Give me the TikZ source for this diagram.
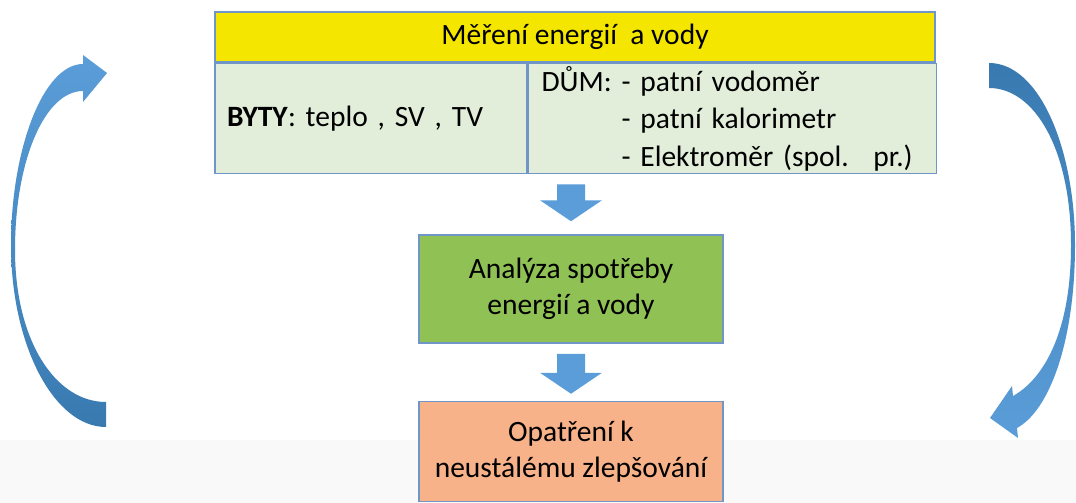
\documentclass[tikz,border=0pt]{standalone}
\usepackage{fontspec}
\setmainfont{Carlito}
\usetikzlibrary{positioning,calc}
\definecolor{hdryellow}{RGB}{245,230,0}
\definecolor{cellgreen}{RGB}{226,238,218}
\definecolor{anagreen}{RGB}{143,193,84}
\definecolor{optsalmon}{RGB}{247,178,138}
\definecolor{edgeblue}{RGB}{112,150,200}
\definecolor{arrlight}{RGB}{90,157,216}
\definecolor{arrdark}{RGB}{56,122,176}
\definecolor{bandgray}{RGB}{249,249,249}
\tikzset{%
  box/.style      = {draw=edgeblue, line width=1.5pt, rectangle, inner sep=0pt,
    align=center, font=\fontsize{29.5}{36}\selectfont},
  hdr/.style      = {box, fill=hdryellow, minimum width=720pt, minimum height=50pt},
  cell/.style     = {box, fill=cellgreen, minimum height=110pt, align=left,
    font=\fontsize{29.5}{37.5}\selectfont}, % lower row of the table
  flow/.style     = {fill=arrlight}, % block arrow
  loopl/.style    = {top color=arrlight, bottom color=arrdark},
  loopr/.style    = {top color=arrdark, bottom color=arrlight}
}
% block arrow from #1 (top) down to #2 (tip)
\newcommand{\flowarrow}[2]{%
  \fill[flow] let \p1=(#1), \p2=(#2) in
    (\x1-14pt,\y1) -- (\x1+14pt,\y1) -- (\x1+14pt,\y2+21pt) -- (\x1+31pt,\y2+21pt)
    -- (\x2,\y2) -- (\x1-31pt,\y2+21pt) -- (\x1-14pt,\y2+21pt) -- cycle;}

\begin{document}
\begin{tikzpicture}[x=1pt, y=-1pt, node distance=57pt]
  \useasboundingbox[fill=white] (0,0) rectangle (1076,503);
  \fill[bandgray] (0,440) rectangle (1076,503);

  % table
  \node [hdr] (meas) at (575,37) {Měření energií~ a vody};
  \node [cell, anchor=north west, minimum width=312pt, inner xsep=12pt, text width=288pt]
    (byty) at (meas.south west) {\textbf{BYTY}: teplo , SV , TV};
  \node [cell, anchor=north west, minimum width=408pt, inner xsep=13pt, text width=382pt]
    (dum) at (byty.north east) {DŮM: - patní vodoměr\\
      \phantom{DŮM: }- patní kalorimetr\\
      \phantom{DŮM: }- Elektroměr (spol.~ pr.)};

  % steps
  \node [box, fill=anagreen, minimum width=304pt, minimum height=108pt]
    (ana) at (571,289) {Analýza spotřeby\\energií a vody};
  \node [box, fill=optsalmon, minimum width=304pt, minimum height=100pt, below=of ana]
    (opt) {Opatření k\\neustálému zlepšování};

  \coordinate (a1top) at ($(byty.south -| ana.north)+(0,10)$);
  \coordinate (a1tip) at ($(ana.north)+(0,-13)$);
  \coordinate (a2top) at ($(ana.south)+(0,10)$);
  \coordinate (a2tip) at ($(opt.north)+(0,-7)$);
  \flowarrow{a1top}{a1tip}
  \flowarrow{a2top}{a2tip}

  % loop arrows
  \shade[loopl] (106,427) .. controls (54,427) and (11,345) .. (11,245)
    .. controls (11,150) and (43,64) .. (83,64) -- (83,55) -- (107,73) -- (83,102)
    -- (83,91) .. controls (45,91) and (15,160) .. (15,250)
    .. controls (15,340) and (55,402) .. (106,402) -- cycle;
  \shade[loopr] (989,63) .. controls (1040,63) and (1075,150) .. (1075,245)
    .. controls (1075,340) and (1050,410) .. (1017,428) -- (1018,438) -- (990,418)
    -- (1012,386) -- (1013,396) .. controls (1045,378) and (1071,330) .. (1071,245)
    .. controls (1071,150) and (1035,88) .. (989,88) -- cycle;
\end{tikzpicture}
\end{document}
